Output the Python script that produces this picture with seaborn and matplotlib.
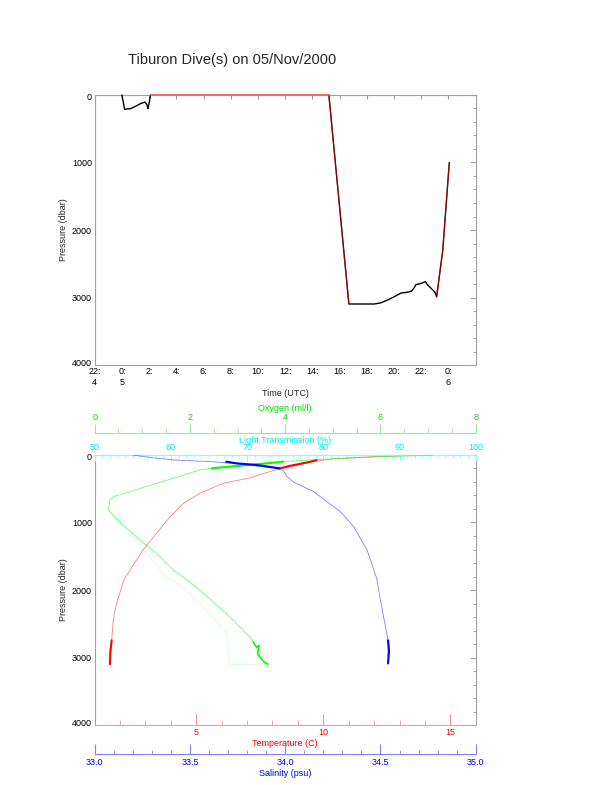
import numpy as np
import matplotlib
matplotlib.use("Agg")
import matplotlib.pyplot as plt
from matplotlib.ticker import MultipleLocator, FixedLocator
from matplotlib.transforms import ScaledTranslation
import seaborn as sns

# dive track: hours after 00:00 UTC 05/Nov/2000, pressure in dbar
track_hours = [0.0, 0.2, 0.64, 1.0, 1.37, 1.69, 1.86, 1.91, 2.04, 2.11,
               15.21, 16.68, 18.55, 19.0, 19.5, 20.0, 20.5, 21.0, 21.3, 21.5,
               21.6, 22.0, 22.3, 22.45, 22.7, 23.0, 23.13, 23.35, 23.58, 23.8, 24.06]
track_p = [0, 212, 202, 168, 128, 104, 153, 202, 79, 0,
           0, 3096, 3096, 3080, 3040, 2990, 2935, 2920, 2905, 2850,
           2810, 2790, 2765, 2810, 2860, 2920, 2990, 2650, 2300, 1700, 1000]

time_ticks = list(range(-2, 25, 2))
time_labels = ["22:\n4", "0:\n5", "2:", "4:", "6:", "8:", "10:", "12:",
               "14:", "16:", "18:", "20:", "22:", "0:\n6"]
p_ticks = [0, 1000, 2000, 3000, 4000]
p_labels = ["0", "1000", "2000", "3000", "4000"]

# CTD profiles (pressure dbar)
temp_p = [5, 25, 60, 100, 150, 197, 222, 341, 415, 564, 712, 915, 1157,
          1409, 1700, 1850, 2196, 2448, 2745, 3100]
temp_c = [13.6, 12.0, 10.3, 9.6, 9.0, 8.4, 8.1, 7.1, 6.1, 5.15, 4.5, 3.97,
          3.44, 2.9, 2.4, 2.15, 1.86, 1.73, 1.67, 1.6]
temp_dense_p = [74, 99, 130, 160, 197]
temp_dense_c = [9.74, 9.5, 9.1, 8.7, 8.3]
temp_deep_p = [2745, 2900, 3100]
temp_deep_c = [1.67, 1.62, 1.6]

sal_p = [0, 40, 75, 100, 124, 148, 175, 197, 230, 320, 396, 544, 841, 1064,
         1409, 1825, 2151, 2448, 2750, 3100]
sal = [33.2, 33.3, 33.42, 33.62, 33.72, 33.8, 33.88, 33.95, 33.99, 34.01,
       34.04, 34.15, 34.29, 34.36, 34.43, 34.48, 34.50, 34.52, 34.54, 34.54]
sal_dense_p = [99, 124, 148, 197]
sal_dense = [33.69, 33.745, 33.85, 33.97]
sal_deep_p = [2745, 2900, 3086]
sal_deep = [34.54, 34.545, 34.54]

oxy_a_p = [5, 10, 20, 40, 55, 75, 99, 150, 197, 222, 280, 346, 420, 544,
           618, 667, 816, 990, 1261, 1457, 1706, 1830, 2003, 2399, 2696, 2770]
oxy_a = [7.1, 6.8, 6.2, 5.5, 5.0, 4.5, 3.95, 3.2, 2.46, 2.2, 1.95, 1.65, 1.3,
         0.74, 0.39, 0.32, 0.29, 0.53, 0.95, 1.3, 1.65, 1.9, 2.21, 2.84,
         3.26, 3.33]
oxy_b_p = [3100, 3100, 2641, 2300, 2003, 1900, 1805, 1457, 1212, 964, 816]
oxy_b = [3.6, 2.84, 2.77, 2.35, 1.93, 1.72, 1.51, 1.09, 0.8, 0.46, 0.29]
oxy_dense_p = [99, 125, 150, 175, 197]
oxy_dense = [3.96, 3.6, 3.2, 2.8, 2.46]
oxy_deep_p = [2770, 2850, 2820, 2950, 3020, 3070, 3100]
oxy_deep = [3.33, 3.40, 3.45, 3.42, 3.50, 3.56, 3.64]

sns.set_style("white")
plt.rcParams['font.family'] = ['Liberation Sans', 'DejaVu Sans']
plt.rcParams['font.size'] = 6.5

frame = '#a0a0a0'
fig = plt.figure(figsize=(6.12, 7.85), dpi=100)


def pressure_axis(ax):
    ax.set_ylim(4000, 0)
    ax.yaxis.set_major_locator(FixedLocator(p_ticks))
    ax.set_yticklabels(p_labels)
    ax.yaxis.set_minor_locator(MultipleLocator(200))
    ax.tick_params(axis='y', which='both', direction='in', colors=frame,
                   labelcolor='black', right=True, labelsize=6.5)
    ax.tick_params(axis='y', which='major', length=4, pad=2)
    ax.tick_params(axis='y', which='minor', length=2.5)
    labs = ax.get_yticklabels()
    # end labels sit inside the frame, as in the original
    labs[0].set_transform(labs[0].get_transform() +
                          ScaledTranslation(0, -2 / 100, fig.dpi_scale_trans))
    labs[-1].set_transform(labs[-1].get_transform() +
                           ScaledTranslation(0, 3 / 100, fig.dpi_scale_trans))
    ax.set_ylabel("Pressure (dbar)", fontsize=6.5, labelpad=3)


# ---- top panel: pressure vs time
ax1 = fig.add_axes([0.1547, 0.535, 0.6226, 0.344])
sns.lineplot(x=track_hours, y=track_p, ax=ax1, sort=False, estimator=None,
             color='black', lw=1.0, clip_on=False, zorder=3)
h = np.array(track_hours)
p = np.array(track_p)
surf = (h >= 2.11) & (h <= 15.21)
down = (h >= 15.21) & (h <= 16.68)
up = h >= 23.13
sns.lineplot(x=h[surf], y=p[surf], ax=ax1, sort=False, estimator=None,
             color='#ff7070', lw=1.3, clip_on=False, zorder=3)
for m in (down, up):
    sns.lineplot(x=h[m], y=p[m], ax=ax1, sort=False, estimator=None,
                 color='red', lw=0.8, alpha=0.6, clip_on=False, zorder=3)
ax1.set_xlim(-2, 26)
ax1.xaxis.set_major_locator(FixedLocator(time_ticks))
ax1.set_xticklabels(time_labels)
ax1.tick_params(axis='x', direction='in', colors=frame, labelcolor='black',
                top=True, length=3, pad=1.5, labelsize=6.5)
pressure_axis(ax1)
for s in ax1.spines.values():
    s.set_color(frame)
ax1.set_xlabel("Time (UTC)", fontsize=6.5, labelpad=1.5)
fig.text(0.38, 0.9236, "Tiburon Dive(s) on 05/Nov/2000", fontsize=10.5,
         ha='center', va='center')

# ---- bottom panel: profiles
ax2 = fig.add_axes([0.1547, 0.0764, 0.6226, 0.344])
ax_lt = ax2.twiny()
ax_ox = ax2.twiny()
ax_sal = ax2.twiny()

sns.lineplot(x=temp_c, y=temp_p, ax=ax2, sort=False, estimator=None,
             color='red', lw=0.6, alpha=0.5)
sns.lineplot(x=temp_dense_c, y=temp_dense_p, ax=ax2, sort=False, estimator=None,
             color='red', lw=1.5)
sns.lineplot(x=temp_deep_c, y=temp_deep_p, ax=ax2, sort=False, estimator=None,
             color='red', lw=1.5)

sns.lineplot(x=sal, y=sal_p, ax=ax_sal, sort=False, estimator=None,
             color='blue', lw=0.6, alpha=0.5)
sns.lineplot(x=sal_dense, y=sal_dense_p, ax=ax_sal, sort=False, estimator=None,
             color='blue', lw=1.5)
sns.lineplot(x=sal_deep, y=sal_deep_p, ax=ax_sal, sort=False, estimator=None,
             color='blue', lw=1.5)

sns.lineplot(x=oxy_a, y=oxy_a_p, ax=ax_ox, sort=False, estimator=None,
             color='#00ff00', lw=0.6, alpha=0.6)
sns.lineplot(x=oxy_b, y=oxy_b_p, ax=ax_ox, sort=False, estimator=None,
             color='#00ff00', lw=0.6, alpha=0.4, ls=(0, (1, 1.5)))
sns.lineplot(x=oxy_dense, y=oxy_dense_p, ax=ax_ox, sort=False, estimator=None,
             color='#00ff00', lw=1.5)
sns.lineplot(x=oxy_deep, y=oxy_deep_p, ax=ax_ox, sort=False, estimator=None,
             color='#00ff00', lw=1.2)

pressure_axis(ax2)
for s in ('left', 'right'):
    ax2.spines[s].set_color(frame)
ax2.spines['top'].set_color('#80ffff')

# temperature (bottom spine of ax2)
ax2.set_xlim(1, 16)
ax2.xaxis.set_major_locator(FixedLocator([5, 10, 15]))
ax2.xaxis.set_minor_locator(MultipleLocator(1))
ax2.spines['bottom'].set_color('#ff9090')
ax2.tick_params(axis='x', which='both', direction='in', colors='#ff9090',
                labelcolor='red', bottom=True, top=False, labelsize=6.5, pad=2)
ax2.tick_params(axis='x', which='major', length=8)
ax2.tick_params(axis='x', which='minor', length=3.6)
ax2.set_xlabel("Temperature (C)", color='red', fontsize=6.5, labelpad=1.5)

# light transmission (top spine)
ax_lt.set_xlim(50, 100)
ax_lt.xaxis.set_major_locator(MultipleLocator(10))
ax_lt.xaxis.set_minor_locator(MultipleLocator(1))
for s in ('left', 'right', 'bottom'):
    ax_lt.spines[s].set_visible(False)
ax_lt.spines['top'].set_color('#80ffff')
ax_lt.tick_params(axis='x', which='both', direction='in', colors='#80ffff',
                  labelcolor='#00e8e8', top=True, bottom=False, labelsize=6.5, pad=2)
ax_lt.tick_params(axis='x', which='major', length=4)
ax_lt.tick_params(axis='x', which='minor', length=2.5)
ax_lt.set_xlabel("Light Transmission (%)", color='#00e8e8', fontsize=6.5, labelpad=0.5)

# oxygen (detached top spine)
ax_ox.set_xlim(0, 8)
ax_ox.xaxis.set_major_locator(MultipleLocator(2))
ax_ox.xaxis.set_minor_locator(MultipleLocator(0.5))
for s in ('left', 'right', 'bottom'):
    ax_ox.spines[s].set_visible(False)
ax_ox.spines['top'].set_position(('axes', 1 + 22 / 270))
ax_ox.spines['top'].set_color('#90ee90')
ax_ox.tick_params(axis='x', which='both', direction='out', colors='#90ee90',
                  labelcolor='#00dd00', top=True, bottom=False, labelsize=6.5, pad=1.5)
ax_ox.tick_params(axis='x', which='major', length=6.5)
ax_ox.tick_params(axis='x', which='minor', length=3.6)
ax_ox.set_xlabel("Oxygen (ml/l)", color='#00dd00', fontsize=6.5, labelpad=1.5)

# salinity (detached bottom spine)
ax_sal.set_xlim(33, 35)
ax_sal.xaxis.set_ticks_position('bottom')
ax_sal.xaxis.set_label_position('bottom')
ax_sal.xaxis.set_major_locator(MultipleLocator(0.5))
ax_sal.xaxis.set_minor_locator(MultipleLocator(0.1))
ax_sal.xaxis.set_major_formatter(matplotlib.ticker.FormatStrFormatter('%.1f'))
for s in ('left', 'right', 'top'):
    ax_sal.spines[s].set_visible(False)
ax_sal.spines['bottom'].set_position(('axes', -29 / 270))
ax_sal.spines['bottom'].set_color('#8080ff')
ax_sal.tick_params(axis='x', which='both', direction='in', colors='#8080ff',
                   labelcolor='blue', top=False, bottom=True, labelsize=6.5, pad=3)
ax_sal.tick_params(axis='x', which='major', length=7)
ax_sal.tick_params(axis='x', which='minor', length=3.2)
ax_sal.set_xlabel("Salinity (psu)", color='blue', fontsize=6.5, labelpad=1.5)

fig.savefig("out.png", dpi=100)
